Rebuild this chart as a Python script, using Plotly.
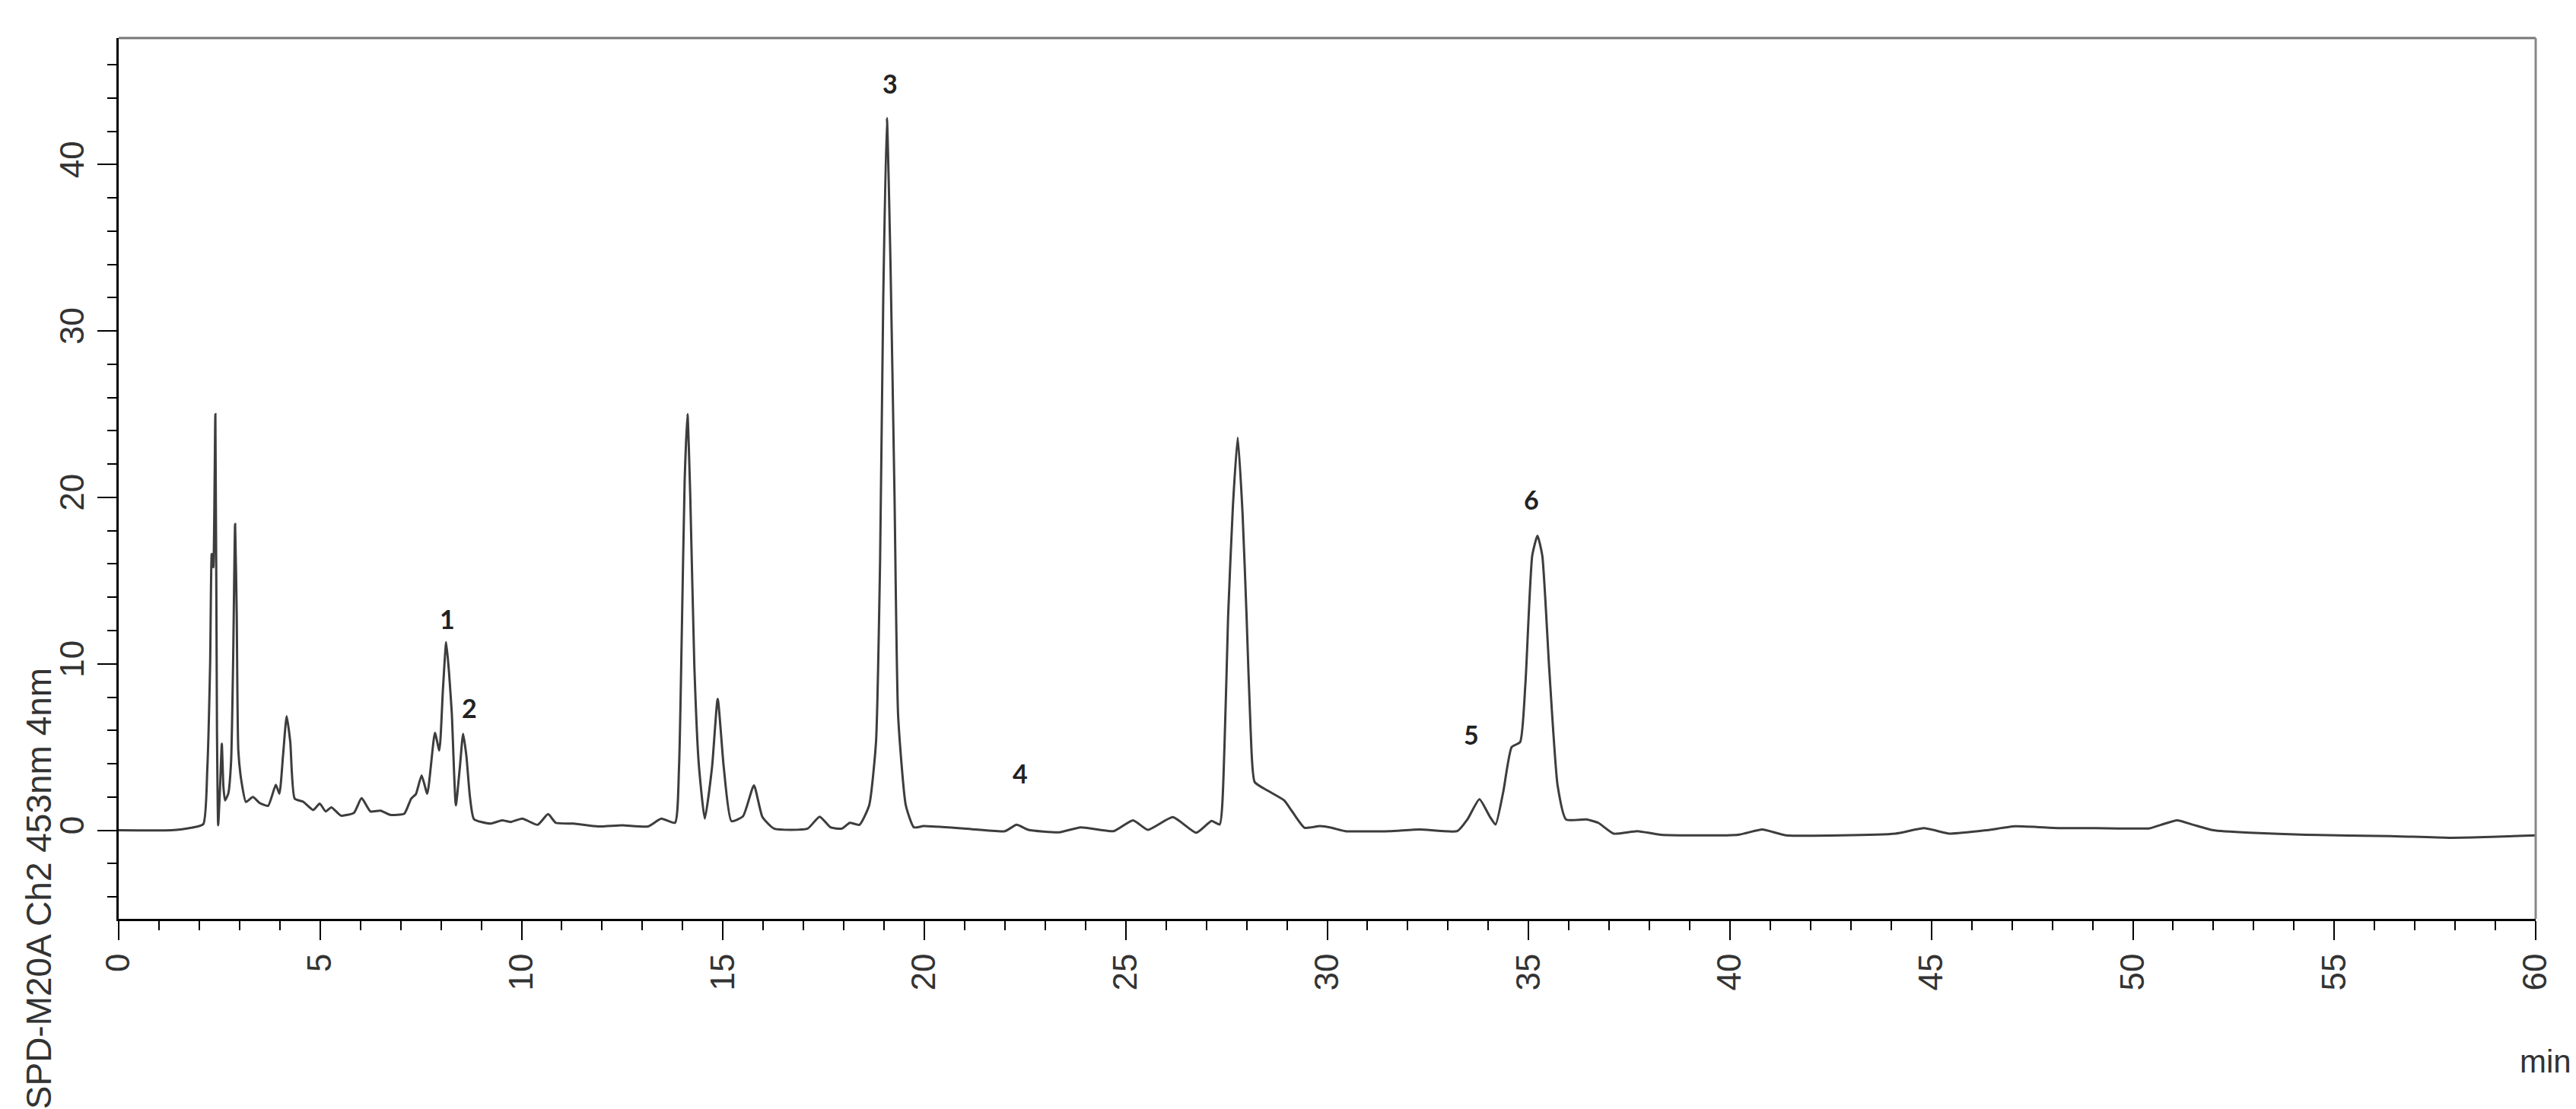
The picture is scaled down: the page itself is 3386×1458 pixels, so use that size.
import plotly.graph_objects as go

# retention time (min) and detector signal
time_min = [0.0, 1.3, 1.8, 2.1, 2.2, 2.27, 2.31, 2.35, 2.40, 2.44, 2.47, 2.52, 2.56, 2.60, 2.64,
            2.72, 2.79, 2.84, 2.89, 2.93, 2.97, 3.05, 3.16, 3.33, 3.5, 3.71, 3.9, 3.99, 4.08, 4.17,
            4.26, 4.37, 4.58, 4.83, 4.99, 5.14, 5.28, 5.52, 5.84, 6.03, 6.25, 6.5, 6.74, 7.09, 7.26,
            7.38, 7.52, 7.66, 7.85, 7.96, 8.05, 8.13, 8.2, 8.27, 8.37, 8.47, 8.55, 8.63, 8.72, 8.82,
            9.22, 9.52, 9.73, 10.02, 10.4, 10.66, 10.85, 11.3, 11.9, 12.5, 13.14, 13.47, 13.81, 13.91,
            13.98, 14.05, 14.12, 14.19, 14.29, 14.4, 14.55, 14.73, 14.87, 15.02, 15.21, 15.5, 15.77,
            15.98, 16.27, 17.1, 17.4, 17.67, 17.95, 18.15, 18.39, 18.63, 18.8, 18.9, 18.98, 19.07,
            19.16, 19.26, 19.35, 19.54, 19.74, 19.98, 21.04, 22.0, 22.29, 22.58, 23.35, 23.88, 24.7,
            25.18, 25.55, 26.17, 26.75, 27.13, 27.33, 27.45, 27.54, 27.66, 27.78, 27.9, 28.0, 28.1,
            28.2, 28.51, 28.93, 29.14, 29.44, 29.82, 30.11, 30.45, 31.54, 32.3, 33.23, 33.48, 33.78,
            34.03, 34.18, 34.37, 34.58, 34.79, 34.92, 35.09, 35.22, 35.34, 35.51, 35.72, 35.93, 36.43,
            36.73, 37.11, 37.7, 38.29, 40.2, 40.8, 41.39, 44.1, 44.82, 45.45, 46.36, 47.08, 48.16,
            49.07, 50.42, 50.7, 51.1, 51.5, 52.0, 52.9, 54.3, 56.4, 57.85, 58.9, 60.0]
signal = [0.0, 0.0, 0.15, 0.37, 3.7, 10.0, 16.6, 15.8, 25.0, 6.0, 0.3, 2.8, 5.2, 2.6, 1.8,
          2.2, 4.1, 10.0, 18.4, 13.0, 4.8, 2.9, 1.7, 2.0, 1.64, 1.47, 2.73, 2.2, 4.5, 6.86,
          5.3, 1.9, 1.72, 1.22, 1.6, 1.13, 1.38, 0.88, 1.05, 1.93, 1.13, 1.18, 0.93, 1.0, 1.9,
          2.18, 3.3, 2.2, 5.85, 4.8, 8.5, 11.3, 9.5, 7.0, 1.5, 3.8, 5.8, 4.5, 2.0, 0.67,
          0.4, 0.6, 0.5, 0.7, 0.33, 0.97, 0.45, 0.4, 0.23, 0.3, 0.23, 0.7, 0.45, 3.8,
          12.0, 21.0, 25.0, 20.0, 9.9, 4.0, 0.7, 3.8, 7.9, 3.8, 0.55, 0.85, 2.7,
          0.8, 0.1, 0.1, 0.82, 0.18, 0.1, 0.45, 0.33, 1.5, 5.3, 16.0, 32.0, 42.8,
          34.0, 20.0, 6.85, 1.5, 0.18, 0.25, 0.1, -0.05, 0.33, 0.03, -0.12, 0.18, -0.05,
          0.6, 0.03, 0.79, -0.15, 0.56, 0.35, 5.0, 12.8, 19.5, 23.6, 19.0, 12.8, 6.0,
          2.9, 2.4, 1.8, 1.1, 0.15, 0.25, 0.15, -0.05, -0.05, 0.05, -0.05, 0.65, 1.87,
          0.85, 0.35, 2.3, 5.0, 5.3, 8.77, 16.5, 17.7, 16.5, 9.8, 2.7, 0.65, 0.65,
          0.45, -0.2, -0.05, -0.27, -0.27, 0.05, -0.3, -0.2, 0.13, -0.2, 0.0, 0.24, 0.13,
          0.13, 0.12, 0.33, 0.6, 0.33, 0.0, -0.15, -0.27, -0.35, -0.45, -0.4, -0.3]

# numbered peak labels
peak_names = ["1", "2", "3", "4", "5", "6"]
peak_x = [8.15, 8.7, 19.15, 22.38, 33.57, 35.08]
peak_y = [12.7, 7.35, 44.9, 3.45, 5.77, 19.9]

x_ticks = list(range(0, 61, 5))
y_ticks = [0, 10, 20, 30, 40]

fig = go.Figure()
fig.add_trace(go.Scatter(x=time_min, y=signal, mode="lines",
                         line=dict(color="#3d3d3d", width=3, shape="spline", smoothing=0.5),
                         showlegend=False))

for name, px, py in zip(peak_names, peak_x, peak_y):
    fig.add_annotation(x=px, y=py, text=name, showarrow=False, xanchor="center", yanchor="middle",
                       font=dict(family="Lato", size=34, color="#222222", weight="bold"))

fig.add_annotation(x=1.004, y=-0.162, xref="paper", yref="paper", text="min", showarrow=False,
                   xanchor="center", yanchor="middle",
                   font=dict(family="Liberation Sans", size=42, color="#333333"))
fig.add_annotation(x=-0.033, y=0.0345, xref="paper", yref="paper", text="SPD-M20A Ch2 453nm 4nm",
                   textangle=-90, showarrow=False, xanchor="center", yanchor="middle",
                   font=dict(family="Liberation Sans", size=46, color="#333333"))

# top and right frame are drawn lighter than the axes
fig.add_shape(type="line", xref="paper", yref="paper", x0=0, x1=1, y0=1, y1=1,
              line=dict(color="#777777", width=3))
fig.add_shape(type="line", xref="paper", yref="paper", x0=1, x1=1, y0=0, y1=1,
              line=dict(color="#888888", width=3))

tick_font = dict(family="Liberation Sans", size=44, color="#333333")
fig.update_xaxes(range=[0, 60], tickvals=x_ticks, tickangle=-90, ticks="outside", ticklen=25,
                 tickwidth=2, tickcolor="black", showline=True, linecolor="black", linewidth=3,
                 showgrid=False, zeroline=False, tickfont=tick_font,
                 minor=dict(dtick=1, tick0=0, ticks="outside", ticklen=12, tickwidth=2,
                            tickcolor="black", showgrid=False))
fig.update_yaxes(range=[-5.32, 47.6], tickvals=y_ticks, tickangle=-90, ticks="outside", ticklen=25,
                 tickwidth=2, tickcolor="black", showline=True, linecolor="black", linewidth=3,
                 showgrid=False, zeroline=False, tickfont=tick_font,
                 minor=dict(dtick=2, tick0=0, ticks="outside", ticklen=12, tickwidth=2,
                            tickcolor="black", showgrid=False))

fig.update_layout(width=3386, height=1458, plot_bgcolor="white", paper_bgcolor="white",
                  margin=dict(l=148, r=61, t=42, b=258))

fig.write_html("out.html")
